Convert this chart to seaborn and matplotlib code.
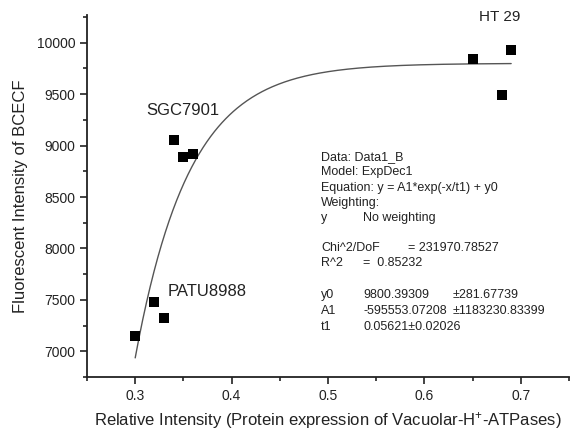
import numpy as np
import pandas as pd

import matplotlib as mpl
import matplotlib.pyplot as plt

import seaborn as sns

# measured points (relative intensity vs BCECF fluorescence)
relative_intensity = [0.30, 0.32, 0.33, 0.34, 0.35, 0.36, 0.65, 0.68, 0.69]
fluorescence = [7145, 7475, 7320, 9050, 8893, 8915, 9844, 9490, 9932]

# ExpDec1 fit parameters as reported in the plot
Y0 = 9800.39309
A1 = -595553.07208
T1 = 0.05621
FIT_RANGE = (0.30, 0.69)

fit_text = [
    ('Data: Data1_B', None, None),
    ('Model: ExpDec1', None, None),
    ('Equation: y = A1*exp(-x/t1) + y0', None, None),
    ('Weighting:', None, None),
    ('y', 'No weighting', None),
    ('Chi^2/DoF', None, '= 231970.78527'),
    ('R^2', '=  0.85232', None),
    ('y0', '9800.39309', '\u00b1281.67739'),
    ('A1', '-595553.07208', '\u00b11183230.83399'),
    ('t1', '0.05621\u00b10.02026', None),
]
text_rows_px = [157, 172, 188, 203, 218, 248, 263, 295, 311, 327]

FIG_W, FIG_H = 571, 436
MY_DPI = 100
AX_LEFT, AX_RIGHT, AX_TOP, AX_BOTTOM = 87, 569, 15, 377


def to_axes(px, py):
    return ((px - AX_LEFT) / (AX_RIGHT - AX_LEFT),
            (AX_BOTTOM - py) / (AX_BOTTOM - AX_TOP))


def main():
    sns.set_theme(style='ticks')
    plt.rcParams['font.family'] = ['Liberation Sans', 'DejaVu Sans']
    plt.rcParams['mathtext.fontset'] = 'custom'
    plt.rcParams['mathtext.rm'] = 'Liberation Sans'
    plt.rcParams['mathtext.default'] = 'regular'

    fig = plt.figure(figsize=(FIG_W / MY_DPI, FIG_H / MY_DPI), dpi=MY_DPI)
    ax = fig.add_axes([AX_LEFT / FIG_W, 1 - AX_BOTTOM / FIG_H,
                       (AX_RIGHT - AX_LEFT) / FIG_W,
                       (AX_BOTTOM - AX_TOP) / FIG_H])

    df = pd.DataFrame({'x': relative_intensity, 'y': fluorescence})
    xs = np.linspace(FIT_RANGE[0], FIT_RANGE[1], 300)
    fit = pd.DataFrame({'x': xs, 'y': Y0 + A1 * np.exp(-xs / T1)})

    sns.lineplot(data=fit, x='x', y='y', ax=ax, color='#555555', lw=1.0)
    sns.scatterplot(data=df, x='x', y='y', ax=ax, marker='s', s=45,
                    color='black', edgecolor='black', linewidth=0, zorder=3)

    ax.set_xlim(0.25, 0.75)
    ax.set_ylim(6750, 10270)
    ax.set_xticks([0.3, 0.4, 0.5, 0.6, 0.7])
    ax.set_xticks(np.arange(0.25, 0.76, 0.1), minor=True)
    ax.set_yticks(range(7000, 10001, 500))
    ax.set_yticks(range(6750, 10251, 500), minor=True)
    ax.tick_params(which='major', length=5, width=1.2, labelsize=10,
                   colors='#222222', direction='out')
    ax.tick_params(which='minor', length=3, width=1.2, direction='out',
                   color='#222222')
    sns.despine(ax=ax)
    for side in ['left', 'bottom']:
        ax.spines[side].set_linewidth(1.3)
        ax.spines[side].set_color('#222222')

    ax.set_xlabel('Relative Intensity (Protein expression of Vacuolar-H$^{+}$-ATPases)',
                  fontsize=12, color='#222222', labelpad=5)
    ax.set_ylabel('Fluorescent Intensity of BCECF', fontsize=12,
                  color='#222222', labelpad=6)

    # cell line labels
    for label, px, py, size in [('SGC7901', 146, 110, 12),
                                ('PATU8988', 168, 291, 12),
                                ('HT 29', 479, 17, 11)]:
        ax.text(*to_axes(px, py), label, transform=ax.transAxes,
                fontsize=size, va='center', ha='left', color='#222222')

    # fit report
    for (c1, c2, c3), py in zip(fit_text, text_rows_px):
        for txt, px in [(c1, 321), (c2, 363), (c3, 408 if c1 == 'Chi^2/DoF' else 453)]:
            if txt:
                ax.text(*to_axes(px, py), txt, transform=ax.transAxes,
                        fontsize=9, va='center', ha='left', color='#222222')

    plt.savefig('out.png', dpi=MY_DPI)


if __name__ == "__main__":
    main()
